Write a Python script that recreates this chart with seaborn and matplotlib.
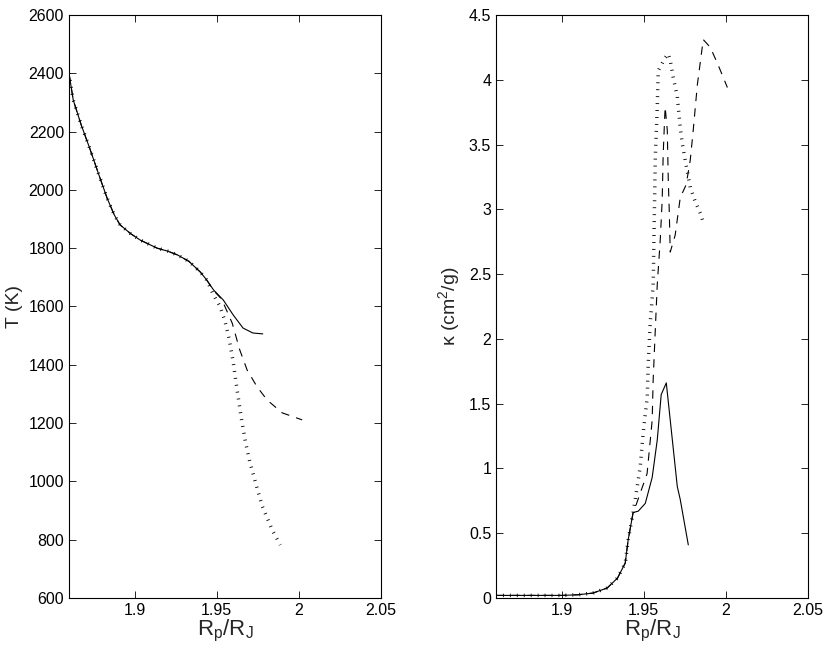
import numpy as np
import matplotlib
matplotlib.use('Agg')
import matplotlib.pyplot as plt
import seaborn as sns

sns.set_style('ticks')
plt.rcParams['font.family'] = ['Liberation Sans', 'DejaVu Sans']
plt.rcParams['mathtext.fontset'] = 'custom'
plt.rcParams['mathtext.rm'] = 'Liberation Sans'

# ---- left panel: temperature profile ----
r_T_common = [1.86, 1.8626, 1.8675, 1.8728, 1.878, 1.8832, 1.8875, 1.8911, 1.8975,
              1.9033, 1.9137, 1.92, 1.926, 1.933, 1.94, 1.944]
T_common = [2400, 2308, 2222, 2140, 2055, 1972, 1915, 1880, 1850,
            1828, 1800, 1790, 1777, 1755, 1718, 1690]

r_T_solid = [1.948, 1.954, 1.96, 1.966, 1.972, 1.978]
T_solid = [1657, 1622, 1571, 1526, 1509, 1506]

r_T_dashed = [1.948, 1.953, 1.9594, 1.964, 1.9685, 1.9746, 1.9807, 1.9899, 2.002]
T_dashed = [1655, 1625, 1543, 1451, 1382, 1324, 1279, 1235, 1211]

r_T_dotted = [1.948, 1.952, 1.955, 1.9575, 1.96, 1.9625, 1.965, 1.9675, 1.970,
              1.9734, 1.9777, 1.9838, 1.9887]
T_dotted = [1640, 1600, 1550, 1490, 1410, 1310, 1215, 1135, 1070,
            1000, 915, 833, 782]

# ---- right panel: opacity ----
r_k_common = [1.86, 1.88, 1.90, 1.91, 1.919, 1.9277, 1.934, 1.9387, 1.9405, 1.9435]
k_common = [0.02, 0.02, 0.02, 0.025, 0.038, 0.077, 0.154, 0.27, 0.45, 0.66]

r_k_solid = [1.9466, 1.9509, 1.9551, 1.9582, 1.9606, 1.9637, 1.9704, 1.9722, 1.9771]
k_solid = [0.67, 0.73, 0.93, 1.22, 1.57, 1.66, 0.86, 0.76, 0.41]

r_k_dashed = [1.9448, 1.952, 1.9551, 1.9557, 1.957, 1.9582, 1.96, 1.9612, 1.9618,
              1.9624, 1.963, 1.9643, 1.9649, 1.9655, 1.9661, 1.9691, 1.9722,
              1.9758, 1.9783, 1.9801, 1.9826, 1.9862, 1.9905, 1.9954, 2.0009]
k_dashed = [0.70, 0.96, 1.37, 1.68, 2.07, 2.42, 2.76, 3.07, 3.42,
            3.61, 3.79, 3.61, 3.23, 2.99, 2.67, 2.80, 3.09,
            3.19, 3.38, 3.61, 3.96, 4.31, 4.25, 4.11, 3.94]

r_k_dotted = [1.9448, 1.9478, 1.9496, 1.9521, 1.9527, 1.9539, 1.9557, 1.957, 1.9582,
              1.9588, 1.963, 1.9649, 1.9661, 1.9679, 1.9704, 1.9722, 1.9734,
              1.9752, 1.9783, 1.9813, 1.9844, 1.9862]
k_dotted = [0.76, 1.01, 1.27, 1.55, 1.81, 2.12, 2.41, 3.4, 3.79,
            4.07, 4.17, 4.2, 4.15, 4.02, 3.87, 3.63, 3.51,
            3.38, 3.17, 3.06, 2.97, 2.9]

x_ticks = [1.9, 1.95, 2.0, 2.05]
T_ticks = np.arange(600, 2601, 200)
k_ticks = np.arange(0, 4.51, 0.5)

styles = {
    'solid': dict(linestyle='-', lw=0.8),
    'dashed': dict(linestyle=(0, (7.5, 6.5)), lw=0.8),
    'dotted': dict(linestyle=(0, (0.25, 1.75)), lw=2.5, dash_capstyle='butt'),
}

fig = plt.figure(figsize=(8.3, 6.5), dpi=100)
ax1 = fig.add_axes([0.0831, 0.08, 0.3759, 0.897])
ax2 = fig.add_axes([0.5976, 0.08, 0.3759, 0.897])

left_curves = {
    'solid': (r_T_common + r_T_solid, T_common + T_solid),
    'dashed': (r_T_common + r_T_dashed, T_common + T_dashed),
    'dotted': (r_T_common + r_T_dotted, T_common + T_dotted),
}
right_curves = {
    'solid': (r_k_common + r_k_solid, k_common + k_solid),
    'dashed': (r_k_common + r_k_dashed, k_common + k_dashed),
    'dotted': (r_k_common + r_k_dotted, k_common + k_dotted),
}

for ax, curves in [(ax1, left_curves), (ax2, right_curves)]:
    for name, (xs, ys) in curves.items():
        sns.lineplot(x=xs, y=ys, ax=ax, color='k', sort=False, estimator=None,
                     **styles[name])

xlabel = r'R$_\mathrm{p}$/R$_\mathrm{J}$'

ax1.set_xlim(1.86, 2.05)
ax1.set_ylim(600, 2600)
ax1.set_yticks(T_ticks)
ax1.set_ylabel('T (K)', fontsize=14)

ax2.set_xlim(1.86, 2.05)
ax2.set_ylim(0, 4.5)
ax2.set_yticks(k_ticks)
ax2.set_yticklabels(['{:g}'.format(v) for v in k_ticks])
ax2.set_ylabel(r'κ (cm$^2$/g)', fontsize=14)

for ax in (ax1, ax2):
    ax.set_xticks(x_ticks)
    ax.set_xticklabels(['{:g}'.format(v) for v in x_ticks])
    ax.set_xlabel(xlabel, fontsize=16, labelpad=0)
    ax.tick_params(direction='in', top=True, right=True, length=5,
                   width=0.6, labelsize=11.5, colors='k')
    for sp in ax.spines.values():
        sp.set_visible(True)
        sp.set_linewidth(0.8)
        sp.set_color('k')

fig.savefig('out.png', dpi=100, facecolor='white')
